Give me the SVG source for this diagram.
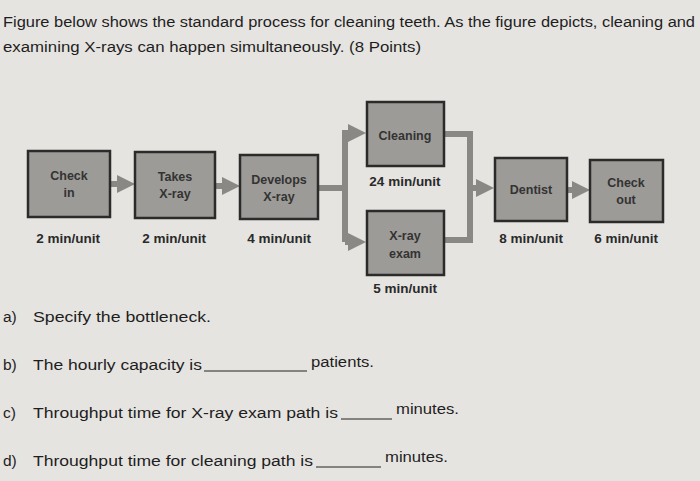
<svg xmlns="http://www.w3.org/2000/svg" width="700" height="481" viewBox="0 0 700 481">
<style>
.t{font-family:"Liberation Sans",Arial,sans-serif;font-size:15.5px;fill:#1e1e1e}
.b{fill:#9d9b97;stroke:#2b2b2b;stroke-width:2.5}
.n{font-family:"Liberation Sans",Arial,sans-serif;font-size:12.5px;font-weight:bold;fill:#333;text-anchor:middle}
.l{font-family:"Liberation Sans",Arial,sans-serif;font-size:13.5px;font-weight:bold;fill:#2a2a2a;text-anchor:middle}
.c{fill:none;stroke:#8a8884;stroke-width:6}
.u{stroke:#222;stroke-width:1}
</style>
<defs><marker id="a" markerWidth="3" markerHeight="3" refX="1.5" refY="1.5" orient="auto"><path d="M0,0L3,1.5L0,3z" fill="#8a8884"/></marker></defs>
<rect width="700" height="481" fill="#e6e4e1"/>
<text class="t" x="3" y="27" textLength="692" lengthAdjust="spacingAndGlyphs">Figure below shows the standard process for cleaning teeth. As the figure depicts, cleaning and</text>
<text class="t" x="3" y="52" textLength="418" lengthAdjust="spacingAndGlyphs">examining X-rays can happen simultaneously. (8 Points)</text>
<g id="connectors">
<line class="c" x1="110" y1="184" x2="126" y2="184" marker-end="url(#a)"/>
<line class="c" x1="215" y1="186" x2="231" y2="186" marker-end="url(#a)"/>
<polyline class="c" points="318,188 345,188"/>
<polyline class="c" points="345,242 345,133 357,133" marker-end="url(#a)"/>
<polyline class="c" points="345,242 357,242" marker-end="url(#a)"/>
<polyline class="c" points="444,134 470,134 470,240 444,240"/>
<line class="c" x1="470" y1="188" x2="485" y2="188" marker-end="url(#a)"/>
<line class="c" x1="567" y1="190" x2="581" y2="190" marker-end="url(#a)"/>
</g>
<g id="checkin"><rect class="b" x="28" y="151" width="82" height="66"/><text class="n" x="69" y="180">Check</text><text class="n" x="69" y="197">in</text><text class="l" x="68" y="243">2 min/unit</text></g>
<g id="takes"><rect class="b" x="135" y="152" width="80" height="66"/><text class="n" x="175" y="181">Takes</text><text class="n" x="175" y="198">X-ray</text><text class="l" x="174" y="243">2 min/unit</text></g>
<g id="develops"><rect class="b" x="240" y="155" width="78" height="64"/><text class="n" x="279" y="184">Develops</text><text class="n" x="279" y="201">X-ray</text><text class="l" x="279" y="243">4 min/unit</text></g>
<g id="cleaning"><rect class="b" x="367" y="102" width="77" height="64"/><text class="n" x="405" y="140">Cleaning</text><text class="l" x="405" y="186">24 min/unit</text></g>
<g id="xray"><rect class="b" x="367" y="211" width="77" height="64"/><text class="n" x="405" y="240">X-ray</text><text class="n" x="405" y="258">exam</text><text class="l" x="405" y="293">5 min/unit</text></g>
<g id="dentist"><rect class="b" x="495" y="158" width="72" height="63"/><text class="n" x="531" y="194">Dentist</text><text class="l" x="531" y="243">8 min/unit</text></g>
<g id="checkout"><rect class="b" x="590" y="160" width="73" height="62"/><text class="n" x="626" y="187">Check</text><text class="n" x="626" y="204">out</text><text class="l" x="626" y="243">6 min/unit</text></g>
<text class="t" x="3" y="322">a)</text><text class="t" x="33" y="322" textLength="178" lengthAdjust="spacingAndGlyphs">Specify the bottleneck.</text>
<text class="t" x="3" y="370">b)</text><text class="t" x="33" y="370" textLength="169" lengthAdjust="spacingAndGlyphs">The hourly capacity is</text><line class="u" x1="204" y1="371" x2="307" y2="371"/><text class="t" x="311" y="367" textLength="63" lengthAdjust="spacingAndGlyphs">patients.</text>
<text class="t" x="3" y="418">c)</text><text class="t" x="33" y="418" textLength="305" lengthAdjust="spacingAndGlyphs">Throughput time for X-ray exam path is</text><line class="u" x1="341" y1="419" x2="392" y2="419"/><text class="t" x="396" y="414" textLength="63" lengthAdjust="spacingAndGlyphs">minutes.</text>
<text class="t" x="3" y="466">d)</text><text class="t" x="33" y="466" textLength="280" lengthAdjust="spacingAndGlyphs">Throughput time for cleaning path is</text><line class="u" x1="316" y1="467" x2="381" y2="467"/><text class="t" x="385" y="462" textLength="63" lengthAdjust="spacingAndGlyphs">minutes.</text>
</svg>
